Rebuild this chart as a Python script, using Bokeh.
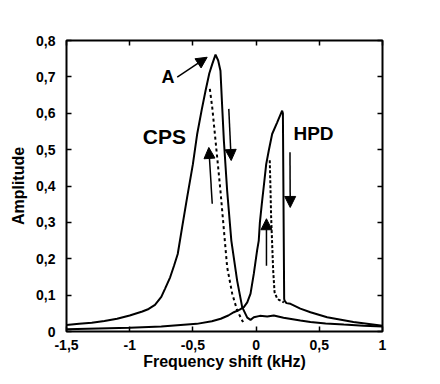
from bokeh.plotting import figure
from bokeh.models import (Range1d, FixedTicker, CustomJSTickFormatter, LinearAxis,
                          Arrow, NormalHead, Label)
from bokeh.embed import file_html
from bokeh.resources import INLINE

# ---- data ----
cps_x = [-1.5, -1.4, -1.3, -1.2, -1.1, -1.0, -0.9, -0.85, -0.8, -0.75, -0.72, -0.68, -0.65,
         -0.62, -0.585, -0.545, -0.5, -0.466, -0.43, -0.40, -0.37, -0.347, -0.321, -0.30,
         -0.282, -0.268, -0.255, -0.229, -0.196, -0.15, -0.11, -0.07, -0.044, -0.018, 0.03,
         0.088, 0.14, 0.217, 0.35, 0.43, 0.55, 0.694, 0.85, 1.0]
cps_y = [0.018, 0.021, 0.024, 0.029, 0.035, 0.044, 0.055, 0.062, 0.073, 0.095, 0.118, 0.149, 0.18,
         0.213, 0.287, 0.37, 0.46, 0.543, 0.61, 0.662, 0.71, 0.735, 0.761, 0.745,
         0.717, 0.616, 0.525, 0.387, 0.25, 0.14, 0.067, 0.038, 0.032, 0.039, 0.043,
         0.041, 0.044, 0.038, 0.03, 0.026, 0.022, 0.019, 0.016, 0.014]

hpd_x = [-1.5, -1.25, -1.0, -0.75, -0.47, -0.35, -0.28, -0.22, -0.176, -0.13, -0.097, -0.07,
         -0.044, -0.018, 0.008, 0.021, 0.03, 0.045, 0.061, 0.08, 0.10, 0.127, 0.167, 0.206,
         0.212, 0.222, 0.225, 0.24, 0.272, 0.35, 0.43, 0.562, 0.77, 1.0]
hpd_y = [0.006, 0.008, 0.01, 0.014, 0.021, 0.028, 0.035, 0.044, 0.053, 0.06, 0.067, 0.08,
         0.104, 0.159, 0.223, 0.25, 0.3, 0.35, 0.40, 0.46, 0.497, 0.543, 0.575, 0.607,
         0.6, 0.09, 0.085, 0.078, 0.076, 0.063, 0.053, 0.039, 0.026, 0.016]

cps_up_x = [-0.366, -0.347, -0.321, -0.282, -0.25, -0.229, -0.189, -0.15, -0.11, -0.102]
cps_up_y = [0.667, 0.616, 0.525, 0.387, 0.26, 0.177, 0.104, 0.058, 0.03, 0.026]

hpd_up_x = [0.108, 0.114, 0.119, 0.135, 0.146, 0.165, 0.18, 0.22]
hpd_up_y = [0.471, 0.39, 0.314, 0.168, 0.108, 0.092, 0.087, 0.08]

x_ticks = [-1.5, -1.0, -0.5, 0.0, 0.5, 1.0]
y_ticks = [0.0, 0.1, 0.2, 0.3, 0.4, 0.5, 0.6, 0.7, 0.8]

# annotations (data units): label texts and arrows (x_start, y_start, x_end, y_end)
label_text = ["A", "CPS", "HPD"]
label_x = [-0.697, -0.725, 0.454]
label_y = [0.70, 0.536, 0.543]
label_size = ["18px", "21px", "19px"]
arrows = [(-0.624, 0.699, -0.387, 0.754),
          (-0.347, 0.351, -0.374, 0.506),
          (-0.216, 0.612, -0.197, 0.47),
          (0.082, 0.181, 0.082, 0.31),
          (0.268, 0.493, 0.270, 0.341)]

FONT = "Liberation Sans"

p = figure(frame_width=316, frame_height=291, output_backend="svg", toolbar_location=None,
           x_range=Range1d(-1.5, 1.0), y_range=Range1d(0, 0.8),
           min_border_left=66, min_border_right=40, min_border_top=40, min_border_bottom=36,
           background_fill_color="white", border_fill_color="white")
p.outline_line_color = "black"
p.outline_line_width = 2
p.outline_line_alpha = 1
p.grid.visible = False

fmt = CustomJSTickFormatter(code="""
const r = Math.round(tick*10)/10;
return String(r).replace('.', ',');
""")
blank = CustomJSTickFormatter(code="return '';")

for ax, ticks in ((p.xaxis[0], x_ticks), (p.yaxis[0], y_ticks)):
    ax.ticker = FixedTicker(ticks=ticks)
    ax.formatter = fmt
    ax.axis_line_color = None
    ax.major_tick_in = 5
    ax.major_tick_out = 0
    ax.minor_tick_line_color = None
    ax.major_tick_line_width = 1.5
    ax.major_label_text_font = FONT
    ax.major_label_text_font_style = "bold"
    ax.major_label_text_font_size = "14px"
    ax.major_label_text_color = "black"
    ax.axis_label_text_font = FONT
    ax.axis_label_text_font_style = "bold"
    ax.axis_label_text_font_size = "16px"
    ax.axis_label_text_color = "black"

p.xaxis[0].axis_label = "Frequency shift (kHz)"
p.yaxis[0].axis_label = "Amplitude"
p.xaxis[0].major_label_standoff = 8
p.xaxis[0].axis_label_standoff = 0
p.yaxis[0].major_label_standoff = 11
p.yaxis[0].axis_label_standoff = 6

top = LinearAxis(ticker=FixedTicker(ticks=x_ticks), formatter=blank,
                 major_label_standoff=0,
                 axis_line_color=None, major_tick_in=5, major_tick_out=0,
                 minor_tick_line_color=None, major_tick_line_width=1.5)
right = LinearAxis(ticker=FixedTicker(ticks=y_ticks), formatter=blank,
                   major_label_standoff=0,
                   axis_line_color=None, major_tick_in=5, major_tick_out=0,
                   minor_tick_line_color=None, major_tick_line_width=1.5)
p.add_layout(top, "above")
p.add_layout(right, "right")

p.line(cps_x, cps_y, line_color="black", line_width=2)
p.line(hpd_x, hpd_y, line_color="black", line_width=2)
p.line(cps_up_x, cps_up_y, line_color="black", line_width=2, line_dash="3 3")
p.line(hpd_up_x, hpd_up_y, line_color="black", line_width=2, line_dash="3 2")

for (xs, ys, xe, ye) in arrows:
    p.add_layout(Arrow(x_start=xs, y_start=ys, x_end=xe, y_end=ye, line_width=1.5,
                       line_color="black",
                       end=NormalHead(size=11, fill_color="black", line_color="black")))

for t, lx, ly, fs in zip(label_text, label_x, label_y, label_size):
    p.add_layout(Label(x=lx, y=ly, text=t, text_font=FONT, text_font_style="bold",
                       text_font_size=fs, text_align="center", text_baseline="middle",
                       text_color="black"))

open("out.html", "w").write(file_html(p, INLINE))
